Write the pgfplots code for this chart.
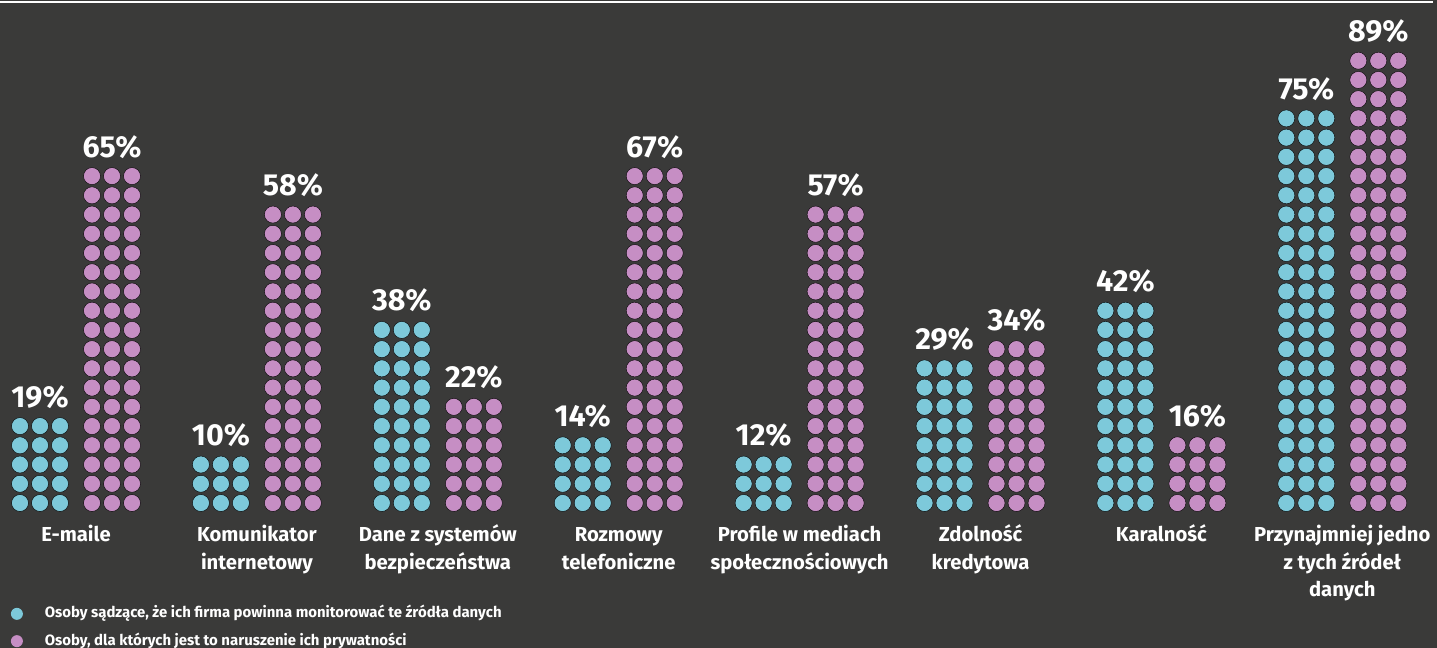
\documentclass[border=0pt]{standalone}
\usepackage{pgfplots}
\pgfplotsset{compat=1.18}
\usepackage{fontspec}
\setmainfont{Fira Sans}
\definecolor{bg}{RGB}{58,58,57}
\definecolor{cblue}{RGB}{125,201,218}
\definecolor{cpink}{RGB}{198,142,196}

% group index / percent / number of dot rows
\def\bluedata{0/19/5,1/10/3,2/38/10,3/14/4,4/12/3,5/29/8,6/42/11,7/75/21}
\def\pinkdata{0/65/18,1/58/16,2/22/6,3/67/18,4/57/16,5/34/9,6/16/4,7/89/24}

\newcommand\builddots[4]{%
  \gdef#3{}\gdef#4{}%
  \foreach \g/\v/\n in #1 {%
    \foreach \c in {0,1,2} {%
      \foreach \k in {1,...,\n} {%
        \pgfmathsetmacro\xx{76+180.9*\g+#2+20*\c}%
        \pgfmathsetmacro\yy{145+19.23*(\k-1)}%
        \xdef#3{#3 (\xx,\yy)}%
      }%
    }%
    \pgfmathsetmacro\xx{76+180.9*\g+#2+20}%
    \pgfmathsetmacro\yy{145+19.23*(\n-1)+19}%
    \xdef#4{\expandafter\unexpanded\expandafter{#4}\noexpand\node[pct] at (axis cs:\xx,\yy) {\v\noexpand\%};}%
  }%
}
\builddots{\bluedata}{-56}{\bluecoords}{\bluelabels}
\builddots{\pinkdata}{16}{\pinkcoords}{\pinklabels}

\tikzset{
  pct/.style={anchor=base, text=white, inner sep=0pt, font=\bfseries\fontsize{30.5}{30.5}\selectfont},
  cat/.style={anchor=base, text=white, inner sep=0pt, font=\bfseries\fontsize{20.3}{20.3}\selectfont},
}

\begin{document}
\begin{tikzpicture}
\fill[bg] (0,0) rectangle (1437bp,648bp);
\useasboundingbox (0,0) rectangle (1437bp,648bp);
\begin{axis}[
  at={(0,0)}, anchor=south west,
  width=1437bp, height=648bp, scale only axis,
  xmin=0, xmax=1437, ymin=0, ymax=648,
  hide axis, clip=false,
  legend cell align=left,
  legend image code/.code={\fill[#1] (6bp,0bp) circle (6bp);},
  legend style={
    at={(axis cs:10.7,20.5)}, anchor=west,
    draw=none, fill=none, text=white, inner sep=0pt,
    font=\bfseries\fontsize{15}{15}\selectfont,
    nodes={inner sep=0pt, text height=11bp, text depth=3bp},
    column sep=22bp, row sep=13.3bp,
  },
]
\edef\tmp{\noexpand\addplot[only marks, mark=*, mark size=8.5bp, draw=none, fill=cblue, mark options={draw=none, fill=cblue}] coordinates {\bluecoords};}\tmp
\addlegendentry{Osoby sądzące, że ich firma powinna monitorować te źródła danych}
\edef\tmp{\noexpand\addplot[only marks, mark=*, mark size=8.5bp, draw=none, fill=cpink, mark options={draw=none, fill=cpink}] coordinates {\pinkcoords};}\tmp
\addlegendentry{Osoby, dla których jest to naruszenie ich prywatności}

\bluelabels
\pinklabels

\draw[white, line width=2.5bp] (axis cs:0,646) -- (axis cs:1433,646);

\node[cat] at (axis cs:76,106) {E-maile};
\node[cat] at (axis cs:256.9,106) {Komunikator};
\node[cat] at (axis cs:256.9,78.5) {internetowy};
\node[cat] at (axis cs:437.8,106) {Dane z systemów};
\node[cat] at (axis cs:437.8,78.5) {bezpieczeństwa};
\node[cat] at (axis cs:618.7,106) {Rozmowy};
\node[cat] at (axis cs:618.7,78.5) {telefoniczne};
\node[cat] at (axis cs:799.6,106) {Profile w mediach};
\node[cat] at (axis cs:799.6,78.5) {społecznościowych};
\node[cat] at (axis cs:980.5,106) {Zdolność};
\node[cat] at (axis cs:980.5,78.5) {kredytowa};
\node[cat] at (axis cs:1161.4,106) {Karalność};
\node[cat] at (axis cs:1342.3,106) {Przynajmniej jedno};
\node[cat] at (axis cs:1342.3,78.5) {z tych źródeł};
\node[cat] at (axis cs:1342.3,51) {danych};
\end{axis}
\end{tikzpicture}
\end{document}
